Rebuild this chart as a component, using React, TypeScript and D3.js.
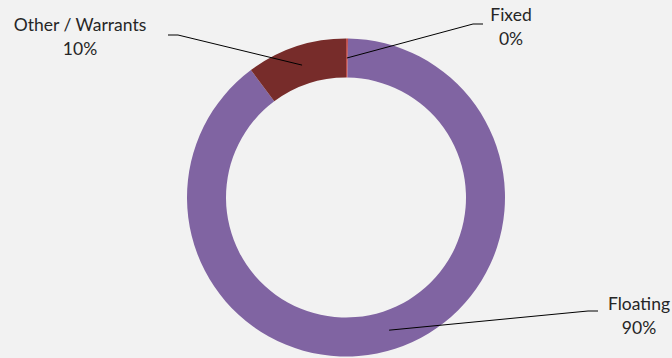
import React from "react";
import * as d3 from "d3";

const categories = ["Fixed", "Floating", "Other / Warrants"];
const values = [0.2, 89.6, 10.2];
const colors = ["#C0504D", "#8064A2", "#772C2A"];
// label anchor (center x, first baseline y) and leader elbow
const labelPos = [
  { x: 511, y: 21, elbowX: 483, elbowY: 24, side: "right" },
  { x: 639, y: 310, elbowX: 598, elbowY: 311, side: "right" },
  { x: 80, y: 31, elbowX: 168, elbowY: 35, side: "left" },
];

const W = 672;
const H = 358;
const cx = 346;
const cy = 197.5;
const outerR = 159;
const innerR = 120;

export default function App() {
  const total = d3.sum(values);
  const pie = d3
    .pie<number>()
    .sort(null)
    .value((d) => d)
    .startAngle(0)
    .endAngle(2 * Math.PI);
  const arcs = pie(values);
  const arc = d3.arc<d3.PieArcDatum<number>>().innerRadius(innerR).outerRadius(outerR);

  return (
    <svg
      width={W}
      height={H}
      style={{ position: "absolute", left: 0, top: 0 }}
      fontFamily="Lato, 'Open Sans', sans-serif"
    >
      <rect width={W} height={H} fill="#F2F2F2" />
      <g transform={`translate(${cx},${cy})`}>
        {arcs.map((a, i) => (
          <path key={i} d={arc(a) || ""} fill={colors[i]} />
        ))}
      </g>
      {arcs.map((a, i) => {
        const [px, py] = arc.centroid(a);
        const lp = labelPos[i];
        const hx = lp.side === "left" ? lp.elbowX + 10 : lp.elbowX - 10;
        const pts: [number, number][] = [
          [cx + px, cy + py],
          [hx, lp.elbowY],
          [lp.elbowX, lp.elbowY],
        ];
        return (
          <path
            key={"l" + i}
            d={d3.line()(pts) || ""}
            fill="none"
            stroke="#000"
            strokeWidth={1}
          />
        );
      })}
      {categories.map((c, i) => {
        const lp = labelPos[i];
        const pct = Math.round((values[i] / total) * 100);
        return (
          <text key={"t" + i} x={lp.x} textAnchor="middle" fontSize={17.5} fill="#262626">
            <tspan x={lp.x} y={lp.y}>{c}</tspan>
            <tspan x={lp.x} y={lp.y + 24}>{pct}%</tspan>
          </text>
        );
      })}
    </svg>
  );
}
